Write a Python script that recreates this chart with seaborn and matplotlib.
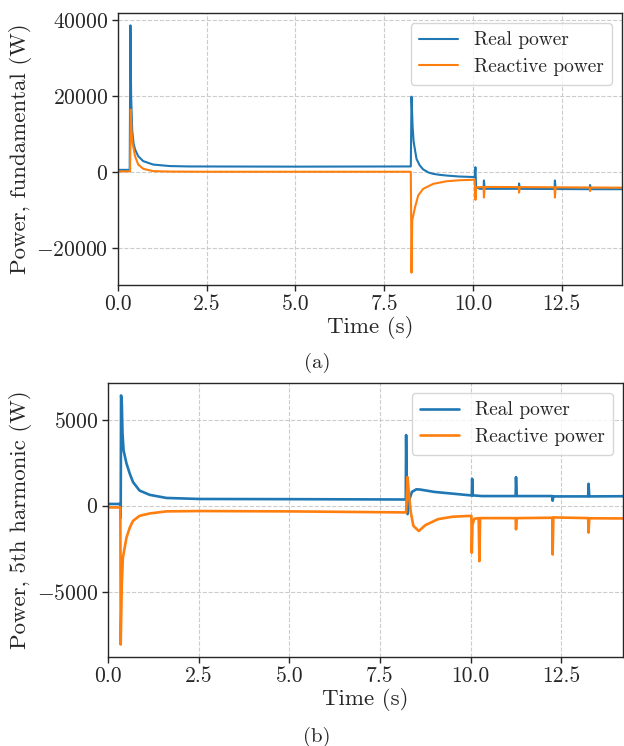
import numpy as np
import pandas as pd
import matplotlib
matplotlib.use("Agg")
import matplotlib.pyplot as plt
import seaborn as sns

# fundamental power (W)
t_fund_real = [0.0, 0.33, 0.35, 0.37, 0.40, 0.44, 0.48, 0.57, 0.71, 0.99, 1.46, 2.0, 5.0, 8.25,
               8.27, 8.30, 8.33, 8.41, 8.50, 8.60, 8.75, 8.88, 9.05, 9.26, 9.60, 10.05,
               10.07, 10.09, 10.20, 10.30, 10.31, 10.33, 11.29, 11.30, 11.32,
               12.30, 12.31, 12.33, 13.29, 13.30, 13.32, 14.2]
p_fund_real = [600, 600, 38700, 20000, 11000, 7500, 6000, 4200, 2900, 2000, 1600, 1500, 1450, 1500,
               19900, 12000, 8000, 3500, 1800, 700, -100, -450, -700, -900, -1150, -1300,
               1300, -4000, -4400, -4400, -2200, -4400, -4400, -3000, -4400,
               -4450, -2200, -4450, -4500, -3400, -4500, -4500]

t_fund_reac = [0.0, 0.34, 0.36, 0.38, 0.41, 0.48, 0.57, 0.71, 0.99, 1.46, 2.5, 5.0, 8.25,
               8.27, 8.29, 8.37, 8.46, 8.60, 8.88, 9.26, 9.60, 10.05,
               10.07, 10.09, 10.30, 10.31, 10.33, 11.29, 11.30, 11.32,
               12.30, 12.31, 12.33, 13.29, 13.30, 13.32, 14.2]
p_fund_reac = [200, 200, 16500, 11000, 7700, 4200, 2000, 870, 260, 150, 100, 100, 100,
               -26500, -12700, -9200, -6100, -4400, -3100, -2400, -2150, -2000,
               -7300, -4000, -3900, -6700, -3900, -3950, -5400, -3950,
               -4000, -6700, -4000, -4050, -5000, -4050, -4100]

# 5th harmonic power (W)
t_h5_real = [0.0, 0.34, 0.35, 0.36, 0.38, 0.40, 0.43, 0.51, 0.60, 0.69, 0.87, 1.15, 1.61, 2.53,
             5.0, 8.20, 8.21, 8.22, 8.24, 8.26, 8.30, 8.38, 8.50, 8.60, 9.0, 9.5, 10.0,
             10.03, 10.04, 10.06, 10.30, 11.24, 11.25, 11.27, 12.25, 12.26, 12.28,
             13.24, 13.25, 13.27, 14.2]
p_h5_real = [100, 100, -700, 6400, 6000, 4200, 3200, 2450, 1860, 1370, 880, 630, 450, 390,
             380, 360, 390, 4100, 200, -490, 300, 800, 950, 940, 800, 700, 600,
             590, 1560, 600, 560, 560, 1660, 560, 560, 290, 540,
             540, 1270, 540, 550]

t_h5_reac = [0.0, 0.34, 0.35, 0.38, 0.41, 0.51, 0.60, 0.69, 0.87, 1.15, 1.61, 2.53, 5.0, 8.20,
             8.22, 8.26, 8.30, 8.35, 8.42, 8.57, 8.75, 9.1, 9.5, 10.0, 10.02, 10.03, 10.05,
             10.10, 10.22, 10.24, 10.26, 11.24, 11.25, 11.27, 12.25, 12.26, 12.28,
             13.24, 13.25, 13.27, 14.2]
p_h5_reac = [-100, -100, -8060, -4590, -3020, -1850, -1270, -880, -590, -450, -330, -310, -330, -390,
             -390, 1660, 600, -400, -1170, -1470, -1130, -780, -640, -590, -590, -2730, -1100,
             -760, -720, -3220, -720, -720, -1370, -720, -700, -2830, -680,
             -720, -1560, -730, -740]

series_labels = ["Real power", "Reactive power"]
colors = ["#1f77b4", "#ff7f0e"]

sns.set_style("ticks")
plt.rcParams["font.family"] = ["cmr10", "DejaVu Serif"]
plt.rcParams["mathtext.fontset"] = "cm"
plt.rcParams["axes.formatter.use_mathtext"] = True
plt.rcParams["axes.unicode_minus"] = True

fig = plt.figure(figsize=(6.24, 7.46), dpi=100)
ax1 = fig.add_axes([118 / 624, 1 - 285 / 746, 504 / 624, 272 / 746])
ax2 = fig.add_axes([108 / 624, 1 - 657 / 746, 515 / 624, 274 / 746])

panels = [
    (ax1, [(t_fund_real, p_fund_real), (t_fund_reac, p_fund_reac)], "Power, fundamental (W)", "(a)", 363, 1.5),
    (ax2, [(t_h5_real, p_h5_real), (t_h5_reac, p_h5_reac)], "Power, 5th harmonic (W)", "(b)", 737, 1.9),
]

for ax, series, ylab, cap, cap_y, lw in panels:
    for (t, p), lab, c in zip(series, series_labels, colors):
        sns.lineplot(x=t, y=p, ax=ax, label=lab, color=c, linewidth=lw,
                     sort=False, estimator=None)
    ax.set_xlim(0, 14.2)
    ax.set_xticks([0, 2.5, 5, 7.5, 10, 12.5])
    ax.xaxis.set_major_formatter(matplotlib.ticker.FormatStrFormatter("%.1f"))
    ax.grid(True, linestyle="--", color="#cccccc", linewidth=0.8)
    ax.set_axisbelow(True)
    for s in ax.spines.values():
        s.set_linewidth(1.0)
    ax.tick_params(labelsize=15.5, length=4, width=1, pad=3)
    ax.set_xlabel("Time (s)", fontsize=16.5, labelpad=1)
    ax.set_ylabel(ylab, fontsize=16.5)
    leg = ax.legend(loc="upper right", fontsize=14, frameon=True, framealpha=0.8,
                    handlelength=2.0, borderpad=0.45, labelspacing=0.45,
                    borderaxespad=0.5)
    fig.text(317 / 624, 1 - cap_y / 746, cap, fontsize=15, ha="center", va="center")

ax1.set_yticks([-20000, 0, 20000, 40000])
ax2.set_yticks([-5000, 0, 5000])
ax1.yaxis.set_label_coords(-0.17, 0.5)
ax2.yaxis.set_label_coords(-0.148, 0.5)

fig.savefig("out.png", dpi=100)
plt.close(fig)
